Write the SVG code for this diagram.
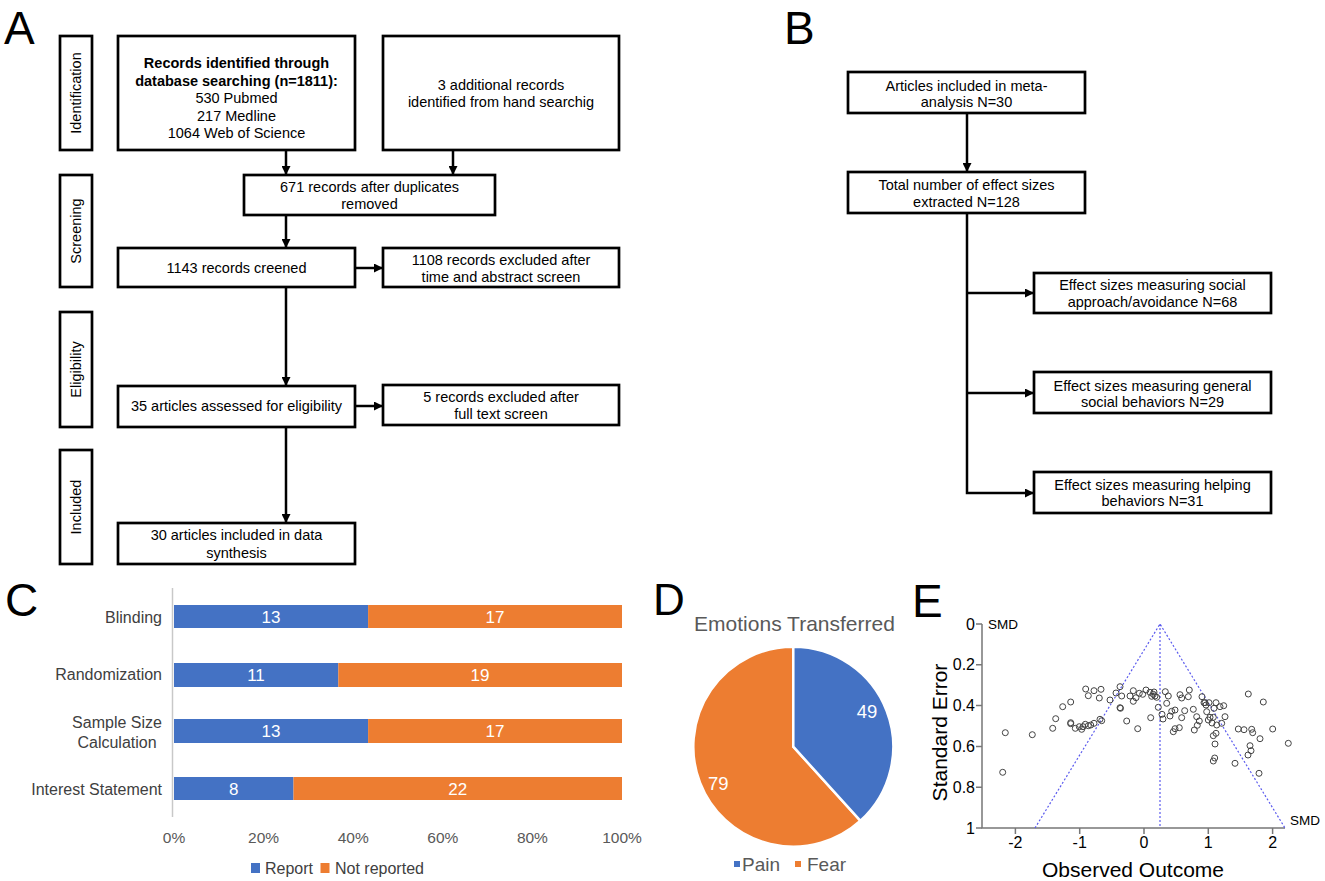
<svg xmlns="http://www.w3.org/2000/svg" width="1325" height="881" viewBox="0 0 1325 881">
<defs>
<marker id="ah" viewBox="0 0 10 10" refX="10" refY="5" markerWidth="10" markerHeight="9" markerUnits="userSpaceOnUse" orient="auto"><path d="M0,0 L10,5 L0,10 z" fill="#000"/></marker>
</defs>
<style>
text{font-family:"Liberation Sans",Arial,sans-serif;}
.box{fill:#fff;stroke:#000;stroke-width:2.7;}
.t{font-size:14.5px;fill:#000;text-anchor:middle;}
.bold{font-weight:bold;}
.conn{stroke:#000;stroke-width:2.5;fill:none;}
.plab{font-size:46px;fill:#000;}
.blue{fill:#4472C4;}
.orange{fill:#ED7D31;}
.bl{font-size:17px;fill:#fff;text-anchor:middle;}
.cat{font-size:16px;fill:#404040;}
.tick{font-size:15.5px;fill:#595959;text-anchor:middle;}
.dl{font-size:18.5px;fill:#fff;text-anchor:middle;}
.et{font-size:16px;fill:#000;}
.fun{stroke:#5a5aee;stroke-width:1.2;stroke-dasharray:2,2;fill:none;}
.pts circle{fill:none;stroke:#444;stroke-width:1;}
.ax{stroke:#777;stroke-width:1.5;fill:none;}
</style>

<!-- Panel labels -->
<text class="plab" x="4" y="43.5">A</text>
<text class="plab" x="784" y="43.5">B</text>
<text class="plab" x="5" y="616">C</text>
<text class="plab" x="653" y="615" style="font-size:44px">D</text>
<text class="plab" x="912" y="617">E</text>

<!-- Panel A: phase labels -->
<g id="phase-identification"><rect class="box" x="60" y="36" width="32" height="114"/><text class="t" transform="rotate(-90 81 93)" x="81" y="93">Identification</text></g>
<g id="phase-screening"><rect class="box" x="60" y="175" width="32" height="112"/><text class="t" transform="rotate(-90 81 231)" x="81" y="231">Screening</text></g>
<g id="phase-eligibility"><rect class="box" x="60" y="312" width="32" height="115"/><text class="t" transform="rotate(-90 81 369.5)" x="81" y="369.5">Eligibility</text></g>
<g id="phase-included"><rect class="box" x="60" y="450" width="32" height="114"/><text class="t" transform="rotate(-90 81 507)" x="81" y="507">Included</text></g>

<!-- Panel A nodes -->
<g id="a-records">
<rect class="box" x="118" y="36" width="237" height="114"/>
<text class="t bold" x="236.5" y="68">Records identified through</text>
<text class="t bold" x="236.5" y="85.5">database searching (n=1811):</text>
<text class="t" x="236.5" y="103">530 Pubmed</text>
<text class="t" x="236.5" y="120.5">217 Medline</text>
<text class="t" x="236.5" y="138">1064 Web of Science</text>
</g>
<g id="a-additional">
<rect class="box" x="383" y="36" width="236" height="114"/>
<text class="t" x="501" y="90">3 additional records</text>
<text class="t" x="501" y="106.5">identified from hand searchig</text>
</g>
<g id="a-duplicates">
<rect class="box" x="244" y="175" width="251" height="40"/>
<text class="t" x="369.5" y="191.5">671 records after duplicates</text>
<text class="t" x="369.5" y="209">removed</text>
</g>
<g id="a-screened">
<rect class="box" x="118" y="248" width="237" height="39"/>
<text class="t" x="236.5" y="272.5">1143 records creened</text>
</g>
<g id="a-excluded1">
<rect class="box" x="383" y="248" width="236" height="39"/>
<text class="t" x="501" y="265">1108 records excluded after</text>
<text class="t" x="501" y="281.5">time and abstract screen</text>
</g>
<g id="a-assessed">
<rect class="box" x="118" y="386" width="237" height="41"/>
<text class="t" x="236.5" y="410.5">35 articles assessed for eligibility</text>
</g>
<g id="a-excluded2">
<rect class="box" x="383" y="385" width="236" height="40"/>
<text class="t" x="501" y="402">5 records excluded after</text>
<text class="t" x="501" y="418.5">full text screen</text>
</g>
<g id="a-included">
<rect class="box" x="118" y="523" width="237" height="41"/>
<text class="t" x="236.5" y="540">30 articles included in data</text>
<text class="t" x="236.5" y="558">synthesis</text>
</g>

<!-- Panel B nodes -->
<g id="b-articles">
<rect class="box" x="848" y="72" width="237" height="41"/>
<text class="t" x="966.5" y="91">Articles included in meta-</text>
<text class="t" x="966.5" y="107">analysis N=30</text>
</g>
<g id="b-total">
<rect class="box" x="848" y="172" width="237" height="41"/>
<text class="t" x="966.5" y="190">Total number of effect sizes</text>
<text class="t" x="966.5" y="206.5">extracted N=128</text>
</g>
<g id="b-approach">
<rect class="box" x="1034" y="273" width="237" height="40"/>
<text class="t" x="1152.5" y="290">Effect sizes measuring social</text>
<text class="t" x="1152.5" y="307">approach/avoidance N=68</text>
</g>
<g id="b-general">
<rect class="box" x="1034" y="372" width="237" height="41"/>
<text class="t" x="1152.5" y="391">Effect sizes measuring general</text>
<text class="t" x="1152.5" y="407">social behaviors N=29</text>
</g>
<g id="b-helping">
<rect class="box" x="1034" y="472" width="237" height="41"/>
<text class="t" x="1152.5" y="490">Effect sizes measuring helping</text>
<text class="t" x="1152.5" y="506">behaviors N=31</text>
</g>

<!-- Connectors -->
<g id="connectors">
<path class="conn" d="M286,150 V175" marker-end="url(#ah)"/>
<path class="conn" d="M453,150 V175" marker-end="url(#ah)"/>
<path class="conn" d="M286,215 V248" marker-end="url(#ah)"/>
<path class="conn" d="M355,268 H383" marker-end="url(#ah)"/>
<path class="conn" d="M286,287 V386" marker-end="url(#ah)"/>
<path class="conn" d="M355,406 H383" marker-end="url(#ah)"/>
<path class="conn" d="M286,427 V523" marker-end="url(#ah)"/>
<path class="conn" d="M967,113 V172" marker-end="url(#ah)"/>
<path class="conn" d="M967,213 V493 H1034" marker-end="url(#ah)"/>
<path class="conn" d="M967,293 H1034" marker-end="url(#ah)"/>
<path class="conn" d="M967,393 H1034" marker-end="url(#ah)"/>
</g>

<!-- Panel C: stacked bar chart -->
<g id="panel-c">
<line x1="172.5" y1="588" x2="172.5" y2="817" stroke="#c8c8c8" stroke-width="1.5"/>
<rect class="blue" x="174" y="605" width="194.1" height="23"/>
<rect class="orange" x="368.1" y="605" width="253.9" height="23"/>
<rect class="blue" x="174" y="663" width="164.3" height="24"/>
<rect class="orange" x="338.3" y="663" width="283.7" height="24"/>
<rect class="blue" x="174" y="719" width="194.1" height="24"/>
<rect class="orange" x="368.1" y="719" width="253.9" height="24"/>
<rect class="blue" x="174" y="777" width="119.5" height="23"/>
<rect class="orange" x="293.5" y="777" width="328.5" height="23"/>
<text class="bl" x="271" y="622.5">13</text>
<text class="bl" x="495" y="622.5">17</text>
<text class="bl" x="256" y="681">11</text>
<text class="bl" x="480" y="681">19</text>
<text class="bl" x="271" y="737">13</text>
<text class="bl" x="495" y="737">17</text>
<text class="bl" x="233.7" y="794.5">8</text>
<text class="bl" x="457.8" y="794.5">22</text>
<text class="cat" x="162" y="623" text-anchor="end">Blinding</text>
<text class="cat" x="162" y="680" text-anchor="end">Randomization</text>
<text class="cat" x="117" y="728" text-anchor="middle">Sample Size</text>
<text class="cat" x="117" y="748" text-anchor="middle">Calculation</text>
<text class="cat" x="162" y="795" text-anchor="end">Interest Statement</text>
<text class="tick" x="174" y="842.5">0%</text>
<text class="tick" x="263.6" y="842.5">20%</text>
<text class="tick" x="353.2" y="842.5">40%</text>
<text class="tick" x="442.8" y="842.5">60%</text>
<text class="tick" x="532.4" y="842.5">80%</text>
<text class="tick" x="622" y="842.5">100%</text>
<rect class="blue" x="251" y="863" width="9" height="10"/>
<text class="cat" x="265" y="874">Report</text>
<rect class="orange" x="320.5" y="863" width="9" height="10"/>
<text class="cat" x="335" y="874">Not reported</text>
</g>

<!-- Panel D: pie chart -->
<g id="panel-d">
<text x="794.5" y="630.5" text-anchor="middle" style="font-size:21px;fill:#595959">Emotions Transferred</text>
<path class="orange" d="M793.3,746.7 L860.46,820.8 A100,100 0 1 1 793.3,646.7 Z" stroke="#fff" stroke-width="2.5"/>
<path class="blue" d="M793.3,746.7 L793.3,646.7 A100,100 0 0 1 860.46,820.8 Z" stroke="#fff" stroke-width="2.5"/>
<text class="dl" x="867" y="718.3">49</text>
<text class="dl" x="718.3" y="790">79</text>
<rect class="blue" x="734" y="861" width="6" height="6"/>
<text x="742" y="870.5" style="font-size:19px;fill:#595959">Pain</text>
<rect class="orange" x="795" y="861" width="6" height="6"/>
<text x="807" y="870.5" style="font-size:19px;fill:#595959">Fear</text>
</g>

<!-- Panel E: funnel plot -->
<g id="panel-e">
<path class="ax" d="M982,624 V828 H1285"/>
<path class="ax" d="M976,624 H982 M976,664.8 H982 M976,705.6 H982 M976,746.4 H982 M976,787.2 H982 M976,828 H982"/>
<path class="ax" d="M1015.4,828 V834 M1079.7,828 V834 M1144,828 V834 M1208.3,828 V834 M1272.6,828 V834"/>
<text class="et" x="975" y="629.5" text-anchor="end">0</text>
<text class="et" x="975" y="670.3" text-anchor="end">0.2</text>
<text class="et" x="975" y="711.1" text-anchor="end">0.4</text>
<text class="et" x="975" y="751.9" text-anchor="end">0.6</text>
<text class="et" x="975" y="792.7" text-anchor="end">0.8</text>
<text class="et" x="975" y="833.5" text-anchor="end">1</text>
<text class="et" x="1015.4" y="847.5" text-anchor="middle">-2</text>
<text class="et" x="1079.7" y="847.5" text-anchor="middle">-1</text>
<text class="et" x="1144" y="847.5" text-anchor="middle">0</text>
<text class="et" x="1208.3" y="847.5" text-anchor="middle">1</text>
<text class="et" x="1272.6" y="847.5" text-anchor="middle">2</text>
<text x="988" y="629" style="font-size:13.5px;fill:#000">SMD</text>
<text x="1290" y="825" style="font-size:13.5px;fill:#000">SMD</text>
<text x="1133" y="877" text-anchor="middle" style="font-size:21px;fill:#000">Observed Outcome</text>
<text x="947" y="732.5" transform="rotate(-90 947 732.5)" text-anchor="middle" style="font-size:21px;fill:#000">Standard Error</text>
<path class="fun" d="M1035,828 L1160,624 L1285,828 M1160,624 V828"/>
<g class="pts">
<circle cx="1005.3" cy="732.7" r="3"/><circle cx="1002.7" cy="772.3" r="3"/><circle cx="1032.3" cy="734.7" r="3"/>
<circle cx="1052.7" cy="728.3" r="3"/><circle cx="1055.7" cy="718.7" r="3"/><circle cx="1062.7" cy="706.7" r="3"/>
<circle cx="1070.7" cy="702" r="3"/><circle cx="1085.7" cy="689" r="3"/><circle cx="1088.3" cy="695.7" r="3"/>
<circle cx="1094" cy="690.7" r="3"/><circle cx="1101" cy="689.3" r="3"/><circle cx="1099.3" cy="698" r="3"/>
<circle cx="1100" cy="719.3" r="3"/><circle cx="1101.7" cy="720.7" r="3"/><circle cx="1070.7" cy="723.7" r="3"/>
<circle cx="1070.7" cy="722.7" r="3"/><circle cx="1075.3" cy="728.3" r="3"/><circle cx="1079.3" cy="726.7" r="3"/>
<circle cx="1083" cy="726.7" r="3"/><circle cx="1085.3" cy="724.3" r="3"/><circle cx="1088.3" cy="725.7" r="3"/>
<circle cx="1090.7" cy="725" r="3"/><circle cx="1094" cy="723.3" r="3"/><circle cx="1081.7" cy="729.3" r="3"/>
<circle cx="1120" cy="686.7" r="3"/><circle cx="1120" cy="707.7" r="3"/><circle cx="1120.5" cy="708.3" r="3"/>
<circle cx="1121.7" cy="696" r="3"/><circle cx="1126.7" cy="721" r="3"/><circle cx="1130" cy="696" r="3"/>
<circle cx="1133.3" cy="701.3" r="3"/><circle cx="1137.7" cy="728.7" r="3"/><circle cx="1133.3" cy="690.7" r="3"/>
<circle cx="1136" cy="697.7" r="3"/><circle cx="1139.3" cy="693.3" r="3"/><circle cx="1142.7" cy="694.3" r="3"/>
<circle cx="1150" cy="692.3" r="3"/><circle cx="1151.7" cy="696.3" r="3"/><circle cx="1153.3" cy="694.3" r="3"/>
<circle cx="1155" cy="696" r="3"/><circle cx="1156.7" cy="697.3" r="3"/><circle cx="1154" cy="692" r="3"/>
<circle cx="1150.7" cy="717.7" r="3"/><circle cx="1158.3" cy="707.3" r="3"/><circle cx="1162" cy="714.3" r="3"/>
<circle cx="1163" cy="719" r="3"/><circle cx="1165.3" cy="691.7" r="3"/><circle cx="1168.3" cy="696" r="3"/>
<circle cx="1166.7" cy="703.3" r="3"/><circle cx="1170" cy="716" r="3"/><circle cx="1171.7" cy="711.3" r="3"/>
<circle cx="1173.3" cy="731.7" r="3"/><circle cx="1175" cy="728.7" r="3"/><circle cx="1180" cy="694.7" r="3"/>
<circle cx="1179.3" cy="727.7" r="3"/><circle cx="1181.7" cy="698" r="3"/><circle cx="1181.7" cy="717.7" r="3"/>
<circle cx="1184.7" cy="710.7" r="3"/><circle cx="1188.3" cy="696.7" r="3"/><circle cx="1189.3" cy="690" r="3"/>
<circle cx="1193.3" cy="709.3" r="3"/><circle cx="1194.3" cy="730" r="3"/><circle cx="1196.7" cy="716.7" r="3"/>
<circle cx="1197.3" cy="725.3" r="3"/><circle cx="1199.3" cy="721" r="3"/><circle cx="1202" cy="696.7" r="3"/>
<circle cx="1204" cy="702.7" r="3"/><circle cx="1205" cy="702.7" r="3"/><circle cx="1206" cy="705" r="3"/>
<circle cx="1206.7" cy="711.7" r="3"/><circle cx="1208.3" cy="720" r="3"/><circle cx="1210" cy="717.3" r="3"/>
<circle cx="1212" cy="723" r="3"/><circle cx="1213.3" cy="717.3" r="3"/><circle cx="1214" cy="708.3" r="3"/>
<circle cx="1216" cy="702.7" r="3"/><circle cx="1216.7" cy="725" r="3"/><circle cx="1213.3" cy="735.7" r="3"/>
<circle cx="1215" cy="744" r="3"/><circle cx="1216" cy="733.3" r="3"/><circle cx="1220" cy="706.7" r="3"/>
<circle cx="1221.7" cy="723.3" r="3"/><circle cx="1223.7" cy="705.7" r="3"/><circle cx="1225" cy="716.7" r="3"/>
<circle cx="1214.7" cy="758" r="3"/><circle cx="1213.3" cy="761" r="3"/><circle cx="1235" cy="763.3" r="3"/>
<circle cx="1238.3" cy="729" r="3"/><circle cx="1244" cy="729.7" r="3"/><circle cx="1248.3" cy="694" r="3"/>
<circle cx="1250" cy="745.7" r="3"/><circle cx="1251" cy="750.7" r="3"/><circle cx="1248" cy="755" r="3"/>
<circle cx="1251.7" cy="729.3" r="3"/><circle cx="1252.7" cy="732.7" r="3"/><circle cx="1259" cy="773.3" r="3"/>
<circle cx="1260" cy="738.7" r="3"/><circle cx="1263.3" cy="702" r="3"/><circle cx="1272.7" cy="729" r="3"/>
<circle cx="1288.3" cy="743.3" r="3"/><circle cx="1146" cy="690" r="3"/><circle cx="1110" cy="700" r="3"/>
<circle cx="1116" cy="693" r="3"/><circle cx="1175" cy="710" r="3"/><circle cx="1209" cy="702.7" r="3"/>
</g>
</g>
</svg>
